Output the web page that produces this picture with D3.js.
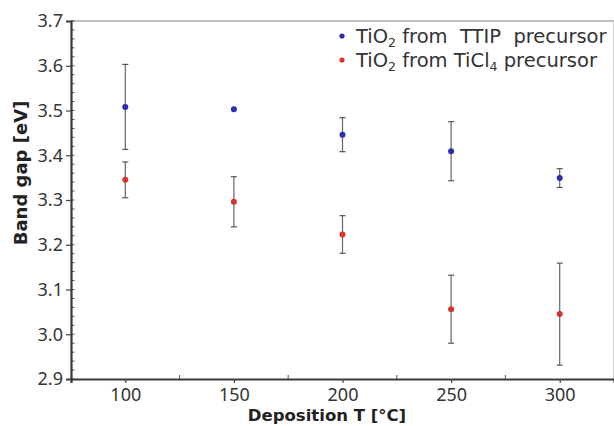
<!DOCTYPE html>
<html><head><meta charset="utf-8">
<script src="https://cdn.jsdelivr.net/npm/d3@7"></script>
<style>body{margin:0;background:#fff}svg{display:block}text{font-family:"Noto Sans",sans-serif}</style>
</head><body><svg id="c" width="614" height="426"></svg>
<script>
const temps = [100, 150, 200, 250, 300];
const ttipValues = [3.508, 3.503, 3.446, 3.409, 3.349];
const ttipErrors = [0.095, 0, 0.038, 0.066, 0.021];
const ticl4Values = [3.345, 3.296, 3.223, 3.056, 3.045];
const ticl4Errors = [0.040, 0.056, 0.042, 0.076, 0.114];
const xTicks = [100, 150, 200, 250, 300];
const xMinorTicks = [125, 175, 225, 275];
const yTicks = [2.9, 3.0, 3.1, 3.2, 3.3, 3.4, 3.5, 3.6, 3.7];
const seriesNames = ["TTIP", "TiCl4"];
const colors = ["#2b2db3", "#d3362b"];

const svg = d3.select("#c");
const L = 71, R = 614, T = 21, B = 379;
const x = d3.scaleLinear().domain([75, 325]).range([L, R]);
const y = d3.scaleLinear().domain([2.9, 3.7]).range([B, T]);

// frame
svg.append("line").attr("x1", L).attr("x2", R).attr("y1", T).attr("y2", T).attr("stroke", "#aaa").attr("stroke-width", 1.5);
svg.append("line").attr("x1", R - 0.5).attr("x2", R - 0.5).attr("y1", T).attr("y2", B).attr("stroke", "#ccc").attr("stroke-width", 1);

// y minor ticks
const yMinor = d3.range(0, 41).map(i => 2.9 + i * 0.02);
svg.append("g").selectAll("line").data(yMinor).join("line")
  .attr("x1", L).attr("x2", L + 3.5).attr("y1", d => y(d)).attr("y2", d => y(d))
  .attr("stroke", "#555").attr("stroke-width", 1);
// x minor ticks
svg.append("g").selectAll("line").data(xMinorTicks).join("line")
  .attr("x1", d => x(d)).attr("x2", d => x(d)).attr("y1", B).attr("y2", B - 4)
  .attr("stroke", "#555").attr("stroke-width", 1);

// axes
const yAxis = svg.append("g").attr("transform", `translate(${L},0)`)
  .call(d3.axisLeft(y).tickValues(yTicks).tickFormat(d3.format(".1f")).tickSize(5).tickPadding(3));
const xAxis = svg.append("g").attr("transform", `translate(0,${B})`)
  .call(d3.axisBottom(x).tickValues(xTicks).tickSize(4).tickPadding(5));
[yAxis, xAxis].forEach(g => {
  g.select(".domain").attr("stroke", "#3a3a3a").attr("stroke-width", 2.2);
  g.selectAll(".tick line").attr("stroke", "#444").attr("stroke-width", 1.2);
  g.selectAll(".tick text").attr("fill", "#333").style("font-size", "18px").style("font-family", "Noto Sans");
});

// axis titles
svg.append("text").attr("transform", "translate(27,173) rotate(-90)").attr("text-anchor", "middle")
  .attr("fill", "#222").style("font-family", "DejaVu Sans").style("font-size", "18px").style("font-weight", "bold").text("Band gap [eV]");
svg.append("text").attr("x", 327).attr("y", 421).attr("text-anchor", "middle")
  .attr("fill", "#222").style("font-family", "DejaVu Sans").style("font-size", "16.5px").style("font-weight", "bold").text("Deposition T [°C]");

// data
const series = [
  {vals: ttipValues, errs: ttipErrors, color: colors[0]},
  {vals: ticl4Values, errs: ticl4Errors, color: colors[1]}
];
series.forEach(s => {
  const g = svg.append("g");
  const data = temps.map((t, i) => ({t, v: s.vals[i], e: s.errs[i]}));
  const eb = data.filter(d => d.e > 0);
  g.selectAll("line.v").data(eb).join("line").attr("class", "v")
    .attr("x1", d => x(d.t)).attr("x2", d => x(d.t)).attr("y1", d => y(d.v - d.e)).attr("y2", d => y(d.v + d.e))
    .attr("stroke", "#666").attr("stroke-width", 1.2);
  ["lo", "hi"].forEach(k => {
    g.selectAll("line." + k).data(eb).join("line").attr("class", k)
      .attr("x1", d => x(d.t) - 3).attr("x2", d => x(d.t) + 3)
      .attr("y1", d => y(k === "lo" ? d.v - d.e : d.v + d.e)).attr("y2", d => y(k === "lo" ? d.v - d.e : d.v + d.e))
      .attr("stroke", "#555").attr("stroke-width", 1.2);
  });
  g.selectAll("circle").data(data).join("circle")
    .attr("cx", d => x(d.t)).attr("cy", d => y(d.v)).attr("r", 3).attr("fill", s.color);
});

// legend
const legendRows = [
  {name: seriesNames[0], color: colors[0], y: 43},
  {name: seriesNames[1], color: colors[1], y: 67}
];
legendRows.forEach(r => {
  svg.append("circle").attr("cx", 342).attr("cy", r.y - 7).attr("r", 2.6).attr("fill", r.color);
  const t = svg.append("text").attr("x", 356).attr("y", r.y).attr("fill", "#333")
    .style("font-family", "DejaVu Sans").style("font-size", "19.5px").style("white-space", "pre");
  t.append("tspan").text("TiO");
  t.append("tspan").attr("dy", 4).style("font-size", "12.5px").text("2");
  if (r.name === "TTIP") {
    t.append("tspan").attr("dy", -4).text(" from  TTIP  precursor");
  } else {
    t.append("tspan").attr("dy", -4).text(" from TiCl");
    t.append("tspan").attr("dy", 4).style("font-size", "12.5px").text("4");
    t.append("tspan").attr("dy", -4).text(" precursor");
  }
});
</script></body></html>
